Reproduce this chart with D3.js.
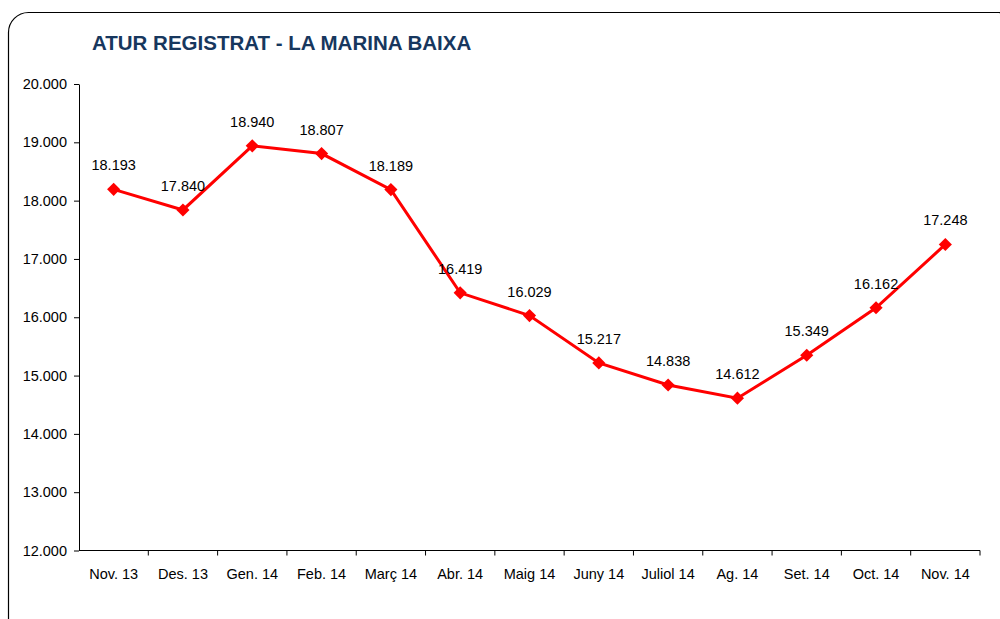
<!DOCTYPE html>
<html>
<head>
<meta charset="utf-8">
<script src="https://cdn.jsdelivr.net/npm/d3@7"></script>
<style>
  body { margin: 0; background: #fff; }
  svg { display: block; font-family: "Liberation Sans", Arial, sans-serif; }
</style>
</head>
<body>
<div id="target"></div>
<script>
// data
var months = ['Nov. 13', 'Des. 13', 'Gen. 14', 'Feb. 14', 'Març 14', 'Abr. 14', 'Maig 14',
              'Juny 14', 'Juliol 14', 'Ag. 14', 'Set. 14', 'Oct. 14', 'Nov. 14'];
var atur = [18193, 17840, 18940, 18807, 18189, 16419, 16029, 15217, 14838, 14612, 15349, 16162, 17248];
var yTicks = [12000, 13000, 14000, 15000, 16000, 17000, 18000, 19000, 20000];

var width = 1000, height = 619;
var margin = { left: 79, right: 20, top: 84, bottom: 68 };
var fs = 14.5;

var fmt = function(d) { return d3.format(',')(d).replace(/,/g, '.'); };

var svg = d3.select('#target').append('svg')
    .attr('width', width)
    .attr('height', height);

// frame
svg.append('rect')
    .attr('x', 8.5).attr('y', 12.5)
    .attr('width', 1010).attr('height', 630)
    .attr('rx', 20).attr('ry', 20)
    .attr('fill', '#fff')
    .attr('stroke', '#000')
    .attr('stroke-width', 1.2);

svg.append('text')
    .attr('x', 92).attr('y', 50)
    .attr('font-size', 20.5)
    .attr('font-weight', 'bold')
    .attr('fill', '#17375e')
    .text('ATUR REGISTRAT - LA MARINA BAIXA');

var x = d3.scaleBand()
    .domain(months)
    .range([margin.left, 980]);

var y = d3.scaleLinear()
    .domain([12000, 20000])
    .range([550.5, margin.top]);

// y axis
var yAxis = svg.append('g')
    .attr('transform', 'translate(' + margin.left + ',0)')
    .call(d3.axisLeft(y).tickValues(yTicks).tickSize(5).tickSizeOuter(0)
        .tickFormat(function(d) { return d3.format('.3f')(d / 1000); }));
yAxis.select('.domain').attr('stroke', '#000');
yAxis.selectAll('.tick line').attr('stroke', '#000');
yAxis.selectAll('.tick text')
    .attr('font-size', fs)
    .attr('font-family', '"Liberation Sans", Arial, sans-serif')
    .attr('fill', '#000')
    .attr('x', -12);

// x axis, ticks between categories
var xAxis = svg.append('g')
    .attr('transform', 'translate(0,' + y(12000) + ')');
xAxis.append('line')
    .attr('x1', margin.left).attr('x2', 980)
    .attr('stroke', '#000');
xAxis.selectAll('.tk')
    .data(months)
    .enter().append('line')
    .attr('x1', function(d) { return x(d) + x.bandwidth(); })
    .attr('x2', function(d) { return x(d) + x.bandwidth(); })
    .attr('y1', 0).attr('y2', 5)
    .attr('stroke', '#000');
xAxis.selectAll('.lbl')
    .data(months)
    .enter().append('text')
    .attr('x', function(d) { return x(d) + x.bandwidth() / 2; })
    .attr('y', 28)
    .attr('text-anchor', 'middle')
    .attr('font-size', fs)
    .attr('fill', '#000')
    .text(function(d) { return d; });

// line
var line = d3.line()
    .x(function(d, i) { return x(months[i]) + x.bandwidth() / 2; })
    .y(function(d) { return y(d); });

svg.append('path')
    .datum(atur)
    .attr('d', line)
    .attr('fill', 'none')
    .attr('stroke', '#ff0000')
    .attr('stroke-width', 3);

svg.selectAll('.marker')
    .data(atur)
    .enter().append('path')
    .attr('d', d3.symbol().type(d3.symbolDiamond2).size(110))
    .attr('transform', function(d, i) {
        return 'translate(' + (x(months[i]) + x.bandwidth() / 2) + ',' + y(d) + ')';
    })
    .attr('fill', '#ff0000');

svg.selectAll('.val')
    .data(atur)
    .enter().append('text')
    .attr('x', function(d, i) { return x(months[i]) + x.bandwidth() / 2; })
    .attr('y', function(d) { return y(d) - 19; })
    .attr('text-anchor', 'middle')
    .attr('font-size', fs)
    .attr('fill', '#000')
    .text(function(d) { return fmt(d); });
</script>
</body>
</html>
